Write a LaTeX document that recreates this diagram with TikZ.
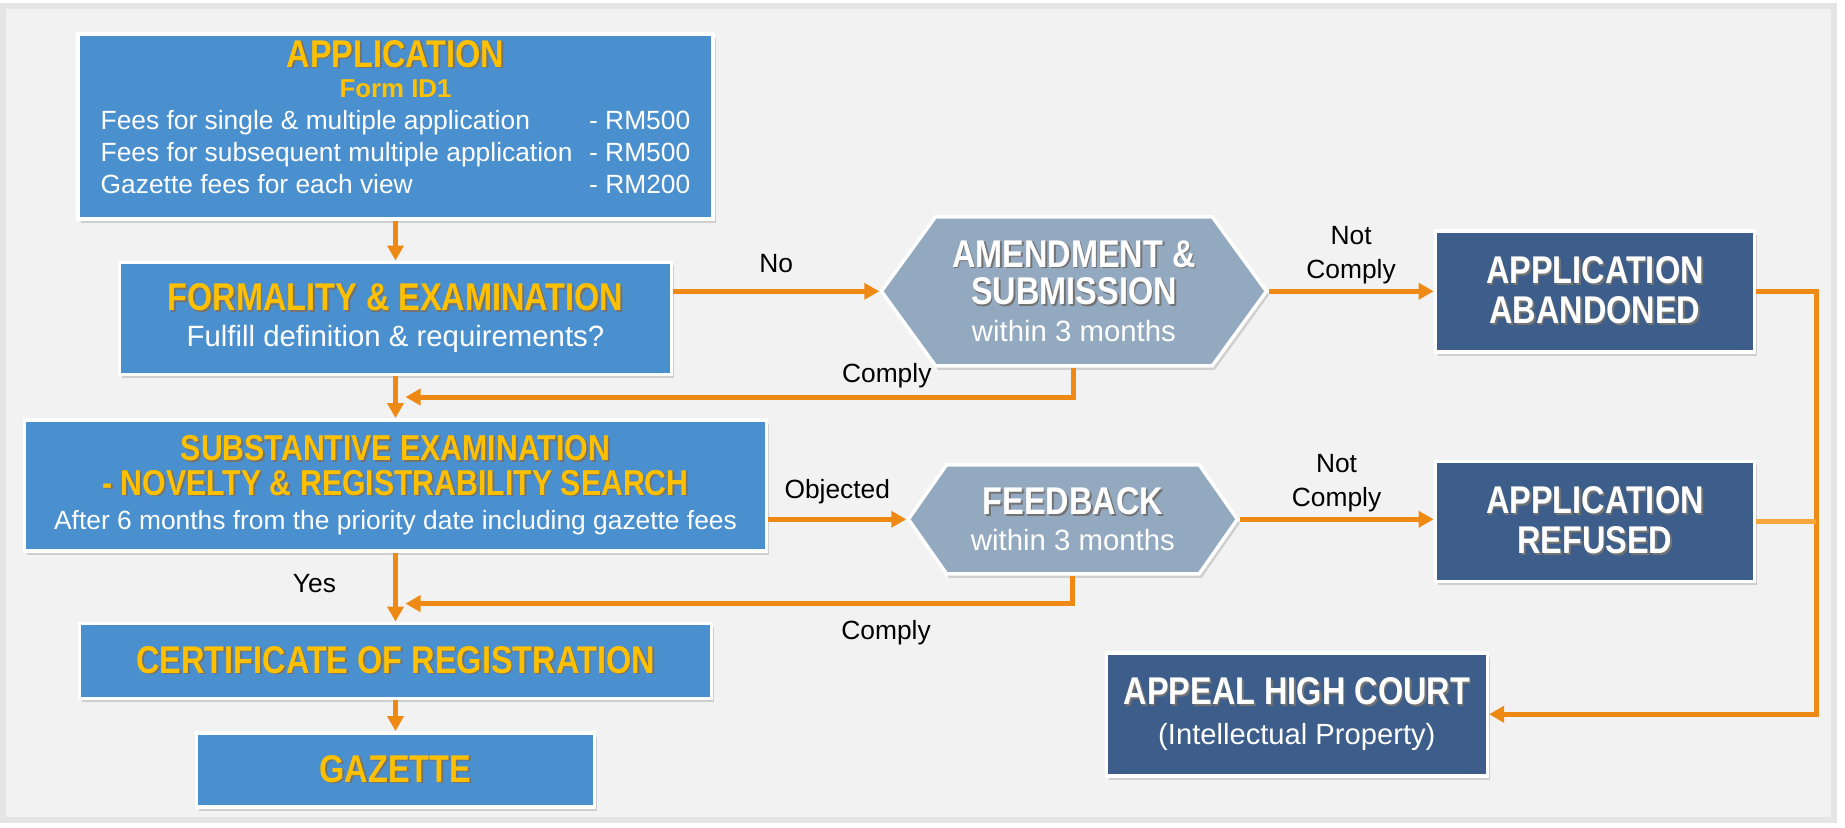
\documentclass[tikz,border=0pt]{standalone}
\usepackage{fontspec}
\setmainfont{Liberation Sans}
\newfontfamily\condfont{Liberation Sans}[FakeStretch=0.84]
\usepackage{tikz}
\usetikzlibrary{positioning,shapes,shapes.symbols,shadows,arrows.meta,calc}

\definecolor{BoxBlue}{HTML}{4A90CF}
\definecolor{HexGrey}{HTML}{93A9BF}
\definecolor{DeepBlue}{HTML}{3D5E8A}
\definecolor{HeadYellow}{HTML}{FFC000}
\definecolor{FlowOrange}{HTML}{EE8A14}
\definecolor{PaleOrange}{HTML}{F8A73C}
\definecolor{Backdrop}{HTML}{F2F2F2}

\newcommand{\txtshadow}[1]{\leavevmode\rlap{\kern1pt\raisebox{-1pt}{\color{black!55}#1}}#1}
\newcommand{\yhead}[2][22]{{\condfont\bfseries\fontsize{#1}{22}\selectfont\color{HeadYellow}\txtshadow{#2}}}
\newcommand{\whead}[1]{{\condfont\bfseries\fontsize{22}{22}\selectfont\color{white}\txtshadow{#1}}}
\newcommand{\feeline}[2]{\makebox[278pt][l]{#1}- #2}

\begin{document}
\begin{tikzpicture}[
    bluebox/.style={draw=white, line width=0.07cm, fill=BoxBlue, text=white, align=center,
        drop shadow={shadow xshift=0.05cm, shadow yshift=-0.08cm, opacity=0.3}},
    hexbox/.style={bluebox, fill=HexGrey, signal, signal to=west and east},
    darkbox/.style={bluebox, fill=DeepBlue, font=\fontsize{16.6}{22.5}\selectfont},
    flow/.style={draw=FlowOrange, line width=0.1cm, -{Triangle[length=0.3cm,width=0.32cm]}},
    tag/.style={font=\fontsize{15}{19}\selectfont, align=center, inner sep=2pt}]
            \useasboundingbox (0,0) rectangle (36.9,-16.54);
            \fill[Backdrop, draw=black!10, line width=0.12cm] (0.06,-0.12) rectangle (36.68,-16.4);

            % left column
            \node[bluebox, font=\fontsize{15}{18.2}\selectfont, minimum width=12.7cm, minimum height=3.42cm](app) at (7.91,-2.53){\yhead{APPLICATION}\\[-1pt]{\bfseries\fontsize{14.7}{18}\selectfont\color{HeadYellow}Form ID1}\\ \feeline{Fees for single \& multiple application}{RM500}\\ \feeline{Fees for subsequent multiple application}{RM500}\\ \feeline{Gazette fees for each view}{RM200}\\[-7pt]};
            \node[bluebox, font=\fontsize{16.7}{20.5}\selectfont, minimum width=11.04cm, minimum height=2.24cm, below=0.8cm of app](form){\yhead{FORMALITY \& EXAMINATION}\\ Fulfill definition \& requirements?};
            \draw[flow](app.south)--(form.north);
            \node[bluebox, font=\fontsize{15}{19.6}\selectfont, minimum width=14.84cm, minimum height=2.62cm, below=0.84cm of form](subst){\yhead[20.5]{SUBSTANTIVE EXAMINATION}\\ \yhead[20.5]{- NOVELTY \& REGISTRABILITY SEARCH}\\ After 6 months from the priority date including gazette fees};
            \draw[flow](form.south)--(subst.north);
            \node[bluebox, minimum width=12.64cm, minimum height=1.5cm, below=1.38cm of subst](cert){\yhead{CERTIFICATE OF REGISTRATION}};
            \draw[flow](subst.south)--node[tag, pos=0.45, left=1.07cm]{Yes}(cert.north);
            \node[bluebox, minimum width=7.96cm, minimum height=1.48cm, below=0.62cm of cert](gaz){\yhead{GAZETTE}};
            \draw[flow](cert.south)--(gaz.north);

            % middle column
            \node[hexbox, signal pointer angle=108, font=\fontsize{16.7}{21.3}\selectfont, minimum width=7.7cm, minimum height=2.98cm, right=4.12cm of form, yshift=0.54cm](amend){\whead{AMENDMENT \&}\\ \whead{SUBMISSION}\\ within 3 months};
            \draw[flow](form.east |- amend.west)--node[tag, above=7pt]{No}(amend.west);
            \node[hexbox, signal pointer angle=110, font=\fontsize{16.7}{20.5}\selectfont, minimum width=6.58cm, minimum height=2.18cm, right=2.76cm of subst, yshift=-0.68cm](fb){\whead{FEEDBACK}\\ within 3 months};
            \draw[flow](subst.east |- fb.west)--node[tag, above=5.5pt]{Objected}(fb.west);

            \coordinate(join1) at ($(form.south)!0.5!(subst.north)+(0.2,0)$);
            \coordinate(join2) at ($(subst.south)!0.74!(cert.north)+(0.2,0)$);
            \draw[flow](amend.south)|-node[tag, pos=0.64, above=2pt]{Comply}(join1);
            \draw[flow](fb.south)|-node[tag, pos=0.64, below=6pt]{Comply}(join2);

            % right column
            \node[darkbox, minimum width=6.38cm, minimum height=2.42cm, right=3.3cm of amend](aband){\whead{APPLICATION}\\ \whead{ABANDONED}};
            \draw[flow](amend.east)--node[tag, above=1pt]{Not\\Comply}(aband.west);
            \node[darkbox, minimum width=6.38cm, minimum height=2.4cm, below=2.12cm of aband](refused){\whead{APPLICATION}\\ \whead{REFUSED}};
            \draw[flow](fb.east)--node[tag, above=1pt]{Not\\Comply}(fb.east -| refused.west);
            \node[darkbox, minimum width=7.62cm, minimum height=2.46cm, below=1.36cm of refused, xshift=-5.96cm](appeal){\whead{APPEAL HIGH COURT}\\ (Intellectual Property)};

            \coordinate[right=1.2cm of aband](bus);
            \draw[flow](aband.east)--(bus)|-(appeal.east);
            \draw[draw=PaleOrange, line width=0.1cm](refused.east)--(refused.east -| bus);
        \end{tikzpicture}
\end{document}
